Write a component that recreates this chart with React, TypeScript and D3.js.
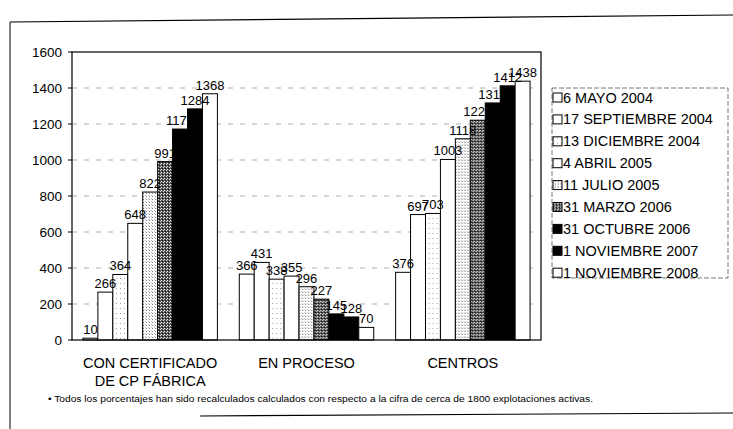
import React from "react";
import * as d3 from "d3";

// categories on the x axis (two lines for the first one)
const categories = ["CON CERTIFICADO|DE CP FÁBRICA", "EN PROCESO", "CENTROS"];

// series = survey dates
const seriesNames = [
  "6 MAYO 2004",
  "17 SEPTIEMBRE 2004",
  "13 DICIEMBRE 2004",
  "4 ABRIL 2005",
  "11 JULIO 2005",
  "31 MARZO 2006",
  "31 OCTUBRE 2006",
  "1 NOVIEMBRE 2007",
  "1 NOVIEMBRE 2008",
];

// values per category, one per series
const conCertificado = [10, 266, 364, 648, 822, 991, 1172, 1284, 1368];
const enProceso = [366, 431, 338, 355, 296, 227, 145, 128, 70];
const centros = [376, 697, 703, 1003, 1118, 1221, 1317, 1412, 1438];

const yTicks = [0, 200, 400, 600, 800, 1000, 1200, 1400, 1600];

const footnote =
  "• Todos los porcentajes han sido recalculados calculados con respecto a la cifra de cerca de 1800 explotaciones activas.";

// fill per series: plain white, light dots, dense pattern or black
const fills = [
  "#fff",
  "#fff",
  "url(#dotsLight)",
  "#fff",
  "url(#dotsMed)",
  "url(#dense)",
  "#000",
  "#000",
  "#fff",
];

const width = 733;
const height = 429;
const margin = { top: 52, right: 192, bottom: 89, left: 72 };

export default function App() {
  const data = [conCertificado, enProceso, centros];
  const innerW = width - margin.left - margin.right;
  const innerH = height - margin.top - margin.bottom;

  const x0 = d3
    .scaleBand<number>()
    .domain(d3.range(categories.length))
    .range([0, innerW])
    .paddingInner(0.14)
    .paddingOuter(0.07);

  const x1 = d3
    .scaleBand<number>()
    .domain(d3.range(seriesNames.length))
    .range([0, x0.bandwidth()]);

  const y = d3.scaleLinear().domain([0, 1600]).range([innerH, 0]);

  const font = "Liberation Sans, Arial, sans-serif";

  return (
    <svg
      width={width}
      height={height}
      style={{ position: "absolute", left: 0, top: 0, background: "#fff" }}
      fontFamily={font}
    >
      <defs>
        <pattern id="dotsLight" width="4" height="5" patternUnits="userSpaceOnUse">
          <rect width="4" height="5" fill="#fff" />
          <rect x="1" y="1" width="1" height="1" fill="#999" />
        </pattern>
        <pattern id="dotsMed" width="3" height="3" patternUnits="userSpaceOnUse">
          <rect width="3" height="3" fill="#fff" />
          <rect x="0" y="0" width="1" height="1" fill="#777" />
          <rect x="2" y="2" width="1" height="1" fill="#bbb" />
        </pattern>
        <pattern id="dense" width="3" height="3" patternUnits="userSpaceOnUse">
          <rect width="3" height="3" fill="#555" />
          <rect x="0" y="0" width="1" height="1" fill="#fff" />
          <rect x="2" y="1" width="1" height="1" fill="#ddd" />
          <rect x="1" y="2" width="1" height="1" fill="#000" />
        </pattern>
      </defs>

      {/* outer frame of the figure */}
      <line x1={10} y1={22} x2={733} y2={15} stroke="#000" strokeWidth={1.2} />
      <line x1={10} y1={22} x2={10} y2={429} stroke="#000" strokeWidth={1} />
      <line x1={200} y1={416} x2={733} y2={413} stroke="#000" strokeWidth={1.2} />

      <g transform={`translate(${margin.left},${margin.top})`}>
        {/* gridlines */}
        {yTicks
          .filter((t) => t > 0 && t < 1600)
          .map((t) => (
            <line
              key={t}
              x1={0}
              x2={innerW}
              y1={y(t)}
              y2={y(t)}
              stroke="#999"
              strokeWidth={0.8}
              strokeDasharray="5,7"
            />
          ))}

        {/* bars */}
        {data.map((vals, ci) => (
          <g key={ci} transform={`translate(${x0(ci)},0)`}>
            {vals.map((v, si) => (
              <rect
                key={si}
                x={x1(si)}
                y={y(v)}
                width={x1.bandwidth()}
                height={innerH - y(v)}
                fill={fills[si]}
                stroke="#000"
                strokeWidth={1}
              />
            ))}
          </g>
        ))}

        {/* value labels on top of everything (black text vanishes over black bars) */}
        {data.map((vals, ci) => (
          <g key={"l" + ci} transform={`translate(${x0(ci)},0)`}>
            {vals.map((v, si) => (
              <text
                key={si}
                x={(x1(si) as number) + x1.bandwidth() / 2}
                y={y(v) - 4}
                textAnchor="middle"
                fontSize={13}
                fill="#000"
              >
                {v}
              </text>
            ))}
          </g>
        ))}

        {/* plot frame */}
        <rect x={0} y={0} width={innerW} height={innerH} fill="none" stroke="#000" strokeWidth={1.2} />

        {/* y axis ticks and labels */}
        {yTicks.map((t) => (
          <g key={t} transform={`translate(0,${y(t)})`}>
            <line x1={-4} x2={0} stroke="#000" />
            <text x={-10} dy="0.35em" textAnchor="end" fontSize={13.5}>
              {t}
            </text>
          </g>
        ))}

        {/* category labels */}
        {categories.map((c, ci) => (
          <text
            key={c}
            x={(x0(ci) as number) + x0.bandwidth() / 2}
            y={innerH + 28}
            textAnchor="middle"
            fontSize={14.5}
          >
            {c.split("|").map((line, li) => (
              <tspan key={li} x={(x0(ci) as number) + x0.bandwidth() / 2} dy={li === 0 ? 0 : 18}>
                {line}
              </tspan>
            ))}
          </text>
        ))}
      </g>

      {/* footnote */}
      <text x={48} y={402} fontSize={8.5} textLength={545} lengthAdjust="spacingAndGlyphs">
        {footnote}
      </text>

      {/* legend */}
      <g transform="translate(552,88)">
        <rect x={0} y={0} width={176} height={190} fill="#fff" stroke="#555" strokeWidth={0.8} strokeDasharray="5,2" />
        {seriesNames.map((s, i) => (
          <g key={s} transform={`translate(0,${5 + i * 21.9})`}>
            <rect x={1} y={0} width={9} height={9} fill={fills[i]} stroke="#000" strokeWidth={1} />
            <text x={11} y={9.5} fontSize={14.5}>
              {s}
            </text>
          </g>
        ))}
      </g>
    </svg>
  );
}
